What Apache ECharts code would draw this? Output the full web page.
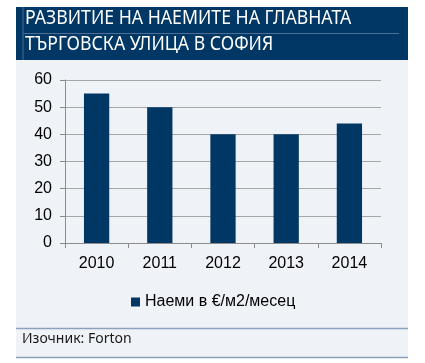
<!DOCTYPE html>
<html><head><meta charset="utf-8">
<script src="https://cdn.jsdelivr.net/npm/echarts@6/dist/echarts.min.js"></script>
<style>html,body{margin:0;padding:0;background:#fff}#c{width:425px;height:363px}</style>
</head><body><div id="c"></div>
<script>
const categories = ['2010', '2011', '2012', '2013', '2014'];
const rents = [55, 50, 40, 40, 44];
const seriesName = 'Наеми в €/м2/месец';
const titleLines = ['РАЗВИТИЕ НА НАЕМИТЕ НА ГЛАВНАТА', 'ТЪРГОВСКА УЛИЦА В СОФИЯ'];
const sourceText = 'Изочник: Forton';

const chart = echarts.init(document.getElementById('c'));
const navy = '#003764';
chart.setOption({
  animation: false,
  backgroundColor: '#ffffff',
  graphic: [
    { type: 'rect', shape: { x: 16, y: 60, width: 392, height: 298 }, style: { fill: '#eff3f8' }, z: -10 },
    { type: 'rect', shape: { x: 16, y: 7, width: 392, height: 53 }, style: { fill: navy }, z: -5 },
    { type: 'line', shape: { x1: 23, y1: 7, x2: 23, y2: 60 }, style: { stroke: '#4a6e96', lineWidth: 1 }, z: -4 },
    { type: 'line', shape: { x1: 23, y1: 33.5, x2: 399, y2: 33.5 }, style: { stroke: '#4a6e96', lineWidth: 1 }, z: -4 },
    { type: 'line', shape: { x1: 16, y1: 328.5, x2: 408, y2: 328.5 }, style: { stroke: '#8aa3bb', lineWidth: 1.5 }, z: -4 },
    { type: 'line', shape: { x1: 16, y1: 357.5, x2: 408, y2: 357.5 }, style: { stroke: '#8aa3bb', lineWidth: 1.5 }, z: -4 },
    { type: 'text', x: 25, y: 9, scaleX: 0.93, style: { text: titleLines[0], fill: '#ffffff', font: '19px "Noto Sans"' } },
    { type: 'text', x: 25, y: 35, scaleX: 0.93, style: { text: titleLines[1], fill: '#ffffff', font: '19px "Noto Sans"' } },
    { type: 'text', left: 22, top: 332, style: { text: sourceText, fill: '#1a1a1a', font: '14px "Noto Sans"' } }
  ],
  legend: {
    left: 126, top: 289,
    itemWidth: 9, itemHeight: 9, itemGap: 4,
    icon: 'rect',
    textStyle: { fontFamily: 'Liberation Sans', fontSize: 16, color: '#000' },
    data: [seriesName]
  },
  grid: { left: 65, right: 44, top: 80, bottom: 120 },
  xAxis: {
    type: 'category', data: categories,
    axisLine: { lineStyle: { color: '#8c8c8c' } },
    axisTick: { show: true, length: 5, lineStyle: { color: '#8c8c8c' } },
    axisLabel: { fontFamily: 'Liberation Sans', fontSize: 16, color: '#000', margin: 13 }
  },
  yAxis: {
    type: 'value', min: 0, max: 60, interval: 10,
    axisLine: { show: true, lineStyle: { color: '#8c8c8c' } },
    axisTick: { show: true, length: 5, lineStyle: { color: '#8c8c8c' } },
    splitLine: { lineStyle: { color: '#a6a6a6' } },
    axisLabel: { fontFamily: 'Liberation Sans', fontSize: 16, color: '#000', margin: 13 }
  },
  series: [{
    name: seriesName, type: 'bar', data: rents,
    barWidth: '40%', itemStyle: { color: navy }
  }]
});
</script></body></html>
